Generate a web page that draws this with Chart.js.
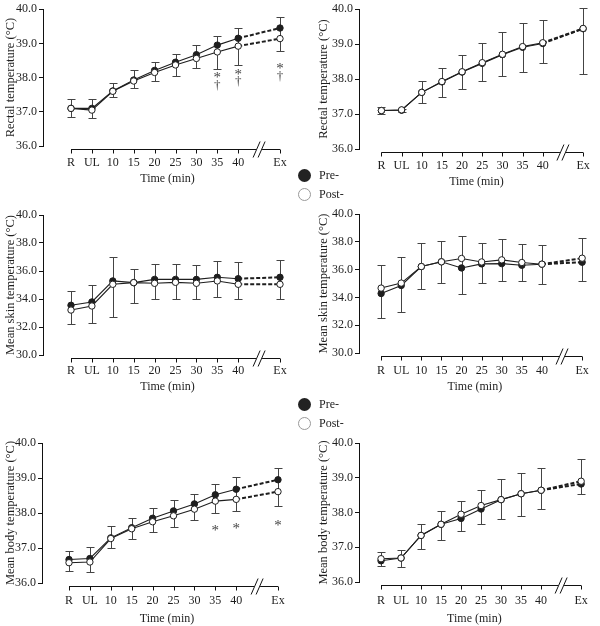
<!DOCTYPE html>
<html>
<head>
<meta charset="utf-8">
<script src="https://cdn.jsdelivr.net/npm/chart.js@4.4.0/dist/chart.umd.min.js"></script>
<style>
  body { margin: 0; background: #fff; }
  #page { position: relative; width: 600px; height: 626px; font-family: "Liberation Serif", serif; }
  canvas { position: absolute; }
  .legend { position: absolute; font-size: 12px; color: #222; }
  .item { height: 19px; line-height: 13px; display: flex; align-items: center; }
  .dot { width: 13px; height: 13px; border-radius: 50%; margin-right: 8px; box-sizing: border-box; }
  .dot.filled { background: #222; }
  .dot.open { background: #fff; border: 1px solid #999; }
</style>
</head>
<body>
<div id="page">
  <canvas id="rectalL" width="300" height="195" style="left:0;top:0"></canvas>
  <canvas id="rectalR" width="300" height="195" style="left:300px;top:0"></canvas>
  <canvas id="skinL" width="300" height="195" style="left:0;top:200px"></canvas>
  <canvas id="skinR" width="300" height="195" style="left:300px;top:200px"></canvas>
  <canvas id="bodyL" width="300" height="226" style="left:0;top:400px"></canvas>
  <canvas id="bodyR" width="300" height="226" style="left:300px;top:400px"></canvas>

  <div class="legend" style="left:298px;top:166px">
    <div class="item"><span class="dot filled"></span>Pre-</div>
    <div class="item"><span class="dot open"></span>Post-</div>
  </div>
  <div class="legend" style="left:298px;top:395px">
    <div class="item"><span class="dot filled"></span>Pre-</div>
    <div class="item"><span class="dot open"></span>Post-</div>
  </div>
</div>

<script>
const timeLabels = ["R", "UL", "10", "15", "20", "25", "30", "35", "40", "Ex"];
const timePos = [0, 1, 2, 3, 4, 5, 6, 7, 8, 10]; // Ex sits after the axis break
const breakPos = 9;

// Rectal temperature, left column
const rectalPreL = [37.10, 37.10, 37.61, 37.93, 38.21, 38.45, 38.67, 38.95, 39.15, 39.45];
const rectalPostL = [37.10, 37.05, 37.60, 37.90, 38.15, 38.37, 38.56, 38.75, 38.92, 39.14];
const rectalHiL = [37.36, 37.36, 37.85, 38.22, 38.46, 38.68, 38.95, 39.22, 39.46, 39.76];
const rectalLoL = [36.84, 36.81, 37.43, 37.70, 37.90, 38.06, 38.28, 38.25, 38.37, 38.78];
const rectalSigL = ["", "", "", "", "", "", "", "*†", "*†", "*†"];
const rectalSigAtL = [0, 0, 0, 0, 0, 0, 0, 38.06, 38.17, 38.33];

// Rectal temperature, right column
const rectalPreR = [37.10, 37.11, 37.62, 37.92, 38.20, 38.45, 38.70, 38.91, 39.02, 39.44];
const rectalPostR = [37.10, 37.12, 37.62, 37.93, 38.21, 38.47, 38.71, 38.93, 39.04, 39.45];
const rectalHiR = [37.21, 37.15, 37.94, 38.32, 38.70, 39.03, 39.34, 39.61, 39.69, 40.04];
const rectalLoR = [37.00, 37.05, 37.32, 37.48, 37.71, 37.95, 38.09, 38.21, 38.45, 38.14];

// Mean skin temperature, left column
const skinPreL = [33.55, 33.79, 35.29, 35.17, 35.40, 35.40, 35.40, 35.55, 35.45, 35.55];
const skinPostL = [33.21, 33.50, 35.05, 35.17, 35.12, 35.19, 35.12, 35.29, 35.05, 35.05];
const skinHiL = [34.55, 35.02, 36.98, 36.14, 36.50, 36.50, 36.40, 36.71, 36.62, 36.79];
const skinLoL = [32.19, 32.26, 32.74, 33.69, 33.98, 34.00, 34.02, 34.17, 33.98, 34.00];

// Mean skin temperature, right column
const skinPreR = [34.28, 34.86, 36.22, 36.56, 36.12, 36.41, 36.43, 36.31, 36.39, 36.53];
const skinPostR = [34.67, 35.03, 36.22, 36.56, 36.80, 36.55, 36.70, 36.51, 36.39, 36.82];
const skinHiR = [36.34, 36.92, 37.91, 38.09, 38.45, 37.90, 38.17, 37.86, 37.76, 38.27];
const skinLoR = [32.53, 32.97, 34.60, 35.03, 34.28, 35.04, 35.20, 35.20, 34.96, 35.20];

// Mean body temperature, left column
const bodyPreL = [36.67, 36.70, 37.29, 37.58, 37.85, 38.06, 38.26, 38.52, 38.68, 38.95];
const bodyPostL = [36.58, 36.60, 37.27, 37.55, 37.75, 37.92, 38.11, 38.34, 38.39, 38.61];
const bodyHiL = [36.92, 37.02, 37.64, 37.87, 38.13, 38.37, 38.55, 38.82, 39.04, 39.30];
const bodyLoL = [36.34, 36.32, 37.01, 37.26, 37.45, 37.61, 37.80, 38.01, 38.07, 38.20];
const bodySigL = ["", "", "", "", "", "", "", "*", "*", "*"];
const bodySigAtL = [0, 0, 0, 0, 0, 0, 0, 37.56, 37.63, 37.72];

// Mean body temperature, right column
const bodyPreR = [36.61, 36.69, 37.34, 37.66, 37.83, 38.10, 38.37, 38.54, 38.64, 38.82];
const bodyPostR = [36.67, 36.69, 37.34, 37.66, 37.95, 38.20, 38.37, 38.54, 38.64, 38.90];
const bodyHiR = [36.87, 36.93, 37.68, 38.05, 38.34, 38.65, 38.95, 39.15, 39.29, 39.55];
const bodyLoR = [36.46, 36.43, 36.96, 37.22, 37.47, 37.67, 37.82, 37.90, 38.11, 38.53];

const FONT = { family: "Liberation Serif", size: 12 };
const TITLE_FONT = { family: "Liberation Serif", size: 12.5 };
const INK = "#1e1e1e";

// error bars under the lines, broken time axis + significance marks on top
const panelExtras = {
  id: "panelExtras",
  beforeDatasetsDraw(chart, args, opts) {
    const { ctx } = chart;
    const xs = chart.scales.x, ys = chart.scales.y;
    ctx.save();
    ctx.strokeStyle = "#444";
    ctx.lineWidth = 1;
    ctx.beginPath();
    opts.hi.forEach((hi, i) => {
      const px = Math.round(xs.getPixelForValue(timePos[i])) + 0.5;
      const top = Math.round(ys.getPixelForValue(hi)) + 0.5;
      const bot = Math.round(ys.getPixelForValue(opts.lo[i])) + 0.5;
      ctx.moveTo(px, top); ctx.lineTo(px, bot);
      ctx.moveTo(px - 4, top); ctx.lineTo(px + 4, top);
      ctx.moveTo(px - 4, bot); ctx.lineTo(px + 4, bot);
    });
    ctx.stroke();
    ctx.restore();
  },
  afterDraw(chart, args, opts) {
    const { ctx, chartArea } = chart;
    const xs = chart.scales.x, ys = chart.scales.y;
    const ly = Math.round(chartArea.bottom) + 3.5;
    const x0 = xs.getPixelForValue(timePos[0]);
    const x1 = xs.getPixelForValue(timePos[timePos.length - 1]);
    const xb = xs.getPixelForValue(breakPos);
    ctx.save();
    ctx.strokeStyle = "#111";
    ctx.lineWidth = 1;
    ctx.beginPath();
    ctx.moveTo(x0, ly); ctx.lineTo(xb - 3, ly);
    ctx.moveTo(xb + 3, ly); ctx.lineTo(x1, ly);
    timePos.forEach(v => {
      const p = Math.round(xs.getPixelForValue(v)) + 0.5;
      ctx.moveTo(p, ly); ctx.lineTo(p, ly + 4);
    });
    [-2.5, 2.5].forEach(d => {
      ctx.moveTo(xb + d - 3.5, ly + 8);
      ctx.lineTo(xb + d + 3.5, ly - 8);
    });
    ctx.stroke();

    if (opts.sig) {
      ctx.fillStyle = "#444";
      ctx.textAlign = "center";
      ctx.textBaseline = "middle";
      opts.sig.forEach((s, i) => {
        if (!s) return;
        const px = xs.getPixelForValue(timePos[i]);
        const py = ys.getPixelForValue(opts.sigAt[i]);
        [...s].forEach((ch, k) => {
          ctx.font = ch === "*" ? "15px 'Liberation Serif'" : "13px 'Liberation Serif'";
          ctx.fillText(ch, px, py + k * 10 + (ch === "*" ? 3 : 0));
        });
      });
    }
    ctx.restore();
  }
};

function series(values, filled) {
  const last = values.length - 1;
  return {
    data: values.map((v, i) => ({ x: timePos[i], y: v })),
    borderColor: INK,
    borderWidth: 1.1,
    pointRadius: 3.2,
    pointBorderWidth: 1,
    pointBackgroundColor: filled ? INK : "#fff",
    pointBorderColor: INK,
    tension: 0,
    segment: {
      borderDash: c => (c.p1DataIndex === last ? [4, 2] : undefined),
      borderWidth: c => (c.p1DataIndex === last ? 2 : undefined)
    }
  };
}

// g: where the axes sit inside the canvas, p: what is plotted
function drawPanel(id, g, p) {
  const canvas = document.getElementById(id);
  const ppu = (g.exX - g.rX) / 10;
  const right = canvas.width - g.padRight;

  new Chart(canvas, {
    type: "line",
    data: { datasets: [series(p.post, false), series(p.pre, true)] },
    options: {
      responsive: false,
      animation: false,
      devicePixelRatio: 1,
      layout: { padding: { top: g.top, right: g.padRight, left: 0, bottom: 0 } },
      plugins: {
        legend: { display: false },
        tooltip: { enabled: false },
        panelExtras: { hi: p.hi, lo: p.lo, sig: p.sig, sigAt: p.sigAt }
      },
      scales: {
        x: {
          type: "linear",
          min: -(g.rX - g.axisX) / ppu,
          max: 10 + (right - g.exX) / ppu,
          border: { display: false },
          grid: { display: false, drawTicks: false },
          afterBuildTicks: s => { s.ticks = timePos.map(v => ({ value: v })); },
          afterFit: s => { s.height = canvas.height - g.bottom; },
          ticks: {
            padding: g.tickPad,
            autoSkip: false,
            maxRotation: 0,
            color: INK,
            font: FONT,
            callback: v => timeLabels[timePos.indexOf(v)]
          },
          title: { display: true, text: "Time (min)", color: INK, font: FONT, padding: { top: 0, bottom: g.titlePad } }
        },
        y: {
          min: p.yMin,
          max: p.yMax,
          afterFit: s => { s.width = g.axisX; },
          border: { display: true, color: "#111", width: 1 },
          grid: { drawOnChartArea: false, drawTicks: true, tickLength: 4, color: "#111" },
          ticks: { stepSize: p.yStep, padding: 2, color: INK, font: FONT, callback: v => v.toFixed(1) },
          title: { display: true, text: p.title, color: INK, font: TITLE_FONT, padding: { top: g.titleLeft, bottom: 0 } }
        }
      }
    },
    plugins: [panelExtras]
  });
}

drawPanel("rectalL",
  { axisX: 43, rX: 71, exX: 280, top: 8, bottom: 146, padRight: 8, tickPad: 10, titlePad: 9, titleLeft: 3 },
  { pre: rectalPreL, post: rectalPostL, hi: rectalHiL, lo: rectalLoL, sig: rectalSigL, sigAt: rectalSigAtL,
    yMin: 36, yMax: 40, yStep: 1, title: "Rectal temperature (°C)" });

drawPanel("rectalR",
  { axisX: 59, rX: 82, exX: 289, top: 7, bottom: 149, padRight: 0, tickPad: 10, titlePad: 6, titleLeft: 16 },
  { pre: rectalPreR, post: rectalPostR, hi: rectalHiR, lo: rectalLoR,
    yMin: 36, yMax: 40, yStep: 1, title: "Rectal temperature (°C)" });

drawPanel("skinL",
  { axisX: 43, rX: 71, exX: 280, top: 15, bottom: 155, padRight: 8, tickPad: 9, titlePad: 1, titleLeft: 3 },
  { pre: skinPreL, post: skinPostL, hi: skinHiL, lo: skinLoL,
    yMin: 30, yMax: 40, yStep: 2, title: "Mean skin temperature (°C)" });

drawPanel("skinR",
  { axisX: 59, rX: 82, exX: 291, top: 14, bottom: 153, padRight: 0, tickPad: 11, titlePad: 1, titleLeft: 16 },
  { pre: skinPreR, post: skinPostR, hi: skinHiR, lo: skinLoR,
    yMin: 30, yMax: 40, yStep: 2, title: "Mean skin temperature (°C)" });

drawPanel("bodyL",
  { axisX: 42, rX: 69, exX: 278, top: 43, bottom: 183, padRight: 8, tickPad: 11, titlePad: 0, titleLeft: 3 },
  { pre: bodyPreL, post: bodyPostL, hi: bodyHiL, lo: bodyLoL, sig: bodySigL, sigAt: bodySigAtL,
    yMin: 36, yMax: 40, yStep: 1, title: "Mean body temperature (°C)" });

drawPanel("bodyR",
  { axisX: 59, rX: 82, exX: 291, top: 43, bottom: 182, padRight: 0, tickPad: 12, titlePad: 0, titleLeft: 16 },
  { pre: bodyPreR, post: bodyPostR, hi: bodyHiR, lo: bodyLoR,
    yMin: 36, yMax: 40, yStep: 1, title: "Mean body temperature (°C)" });
</script>
</body>
</html>
